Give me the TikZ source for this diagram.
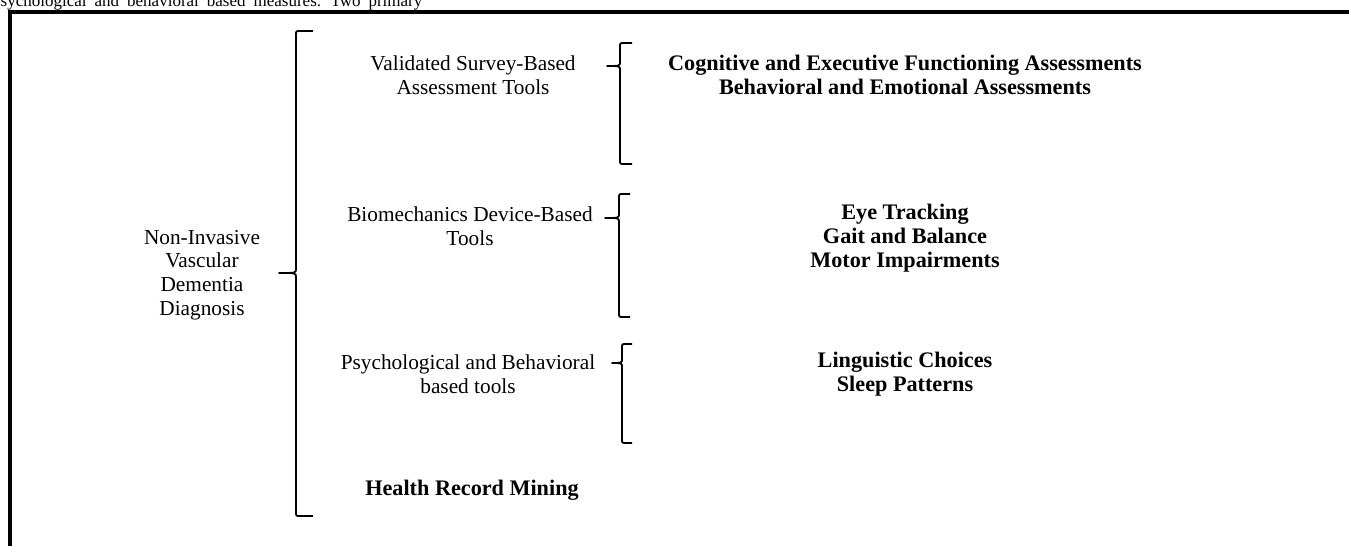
\documentclass[tikz,border=0pt]{standalone}
\usepackage{fontspec}
\setmainfont{Liberation Serif}
\begin{document}
\begin{tikzpicture}[x=1pt,y=-1pt,
  lbl/.style={inner sep=0pt,align=center,font=\fontsize{21.3}{23.6}\selectfont},
  blbl/.style={inner sep=0pt,align=center,font=\fontsize{22.2}{24}\selectfont\bfseries},
  bracestyle/.style={line width=1.8pt,line join=round},
  frame/.style={line width=3.2pt}]
\useasboundingbox (0,0) rectangle (1349,546);
\clip (0,0) rectangle (1349,546);
% partial line of running text above the frame
\node[anchor=base west,inner sep=0pt,font=\fontsize{17}{20}\selectfont] (runtext) at (-8,6)
  {\spaceskip=8pt\relax psychological and behavioral based measures. Two primary};
% frame
\coordinate (fA) at (10,560);
\coordinate (fB) at (10,12);
\coordinate (fC) at (1360,12);
\draw[frame] (fA) -- (fB) -- (fC);
% brace macro: x, top, notch, bottom, arm end, tip
\newcommand\mybrace[6]{%
  \draw[bracestyle] (#5,#2) -- ({#1+4},#2) .. controls (#1,#2) .. (#1,{#2+4})
    -- (#1,{#3-4}) .. controls (#1,#3) .. (#6,#3)
    .. controls (#1,#3) .. (#1,{#3+4})
    -- (#1,{#4-4}) .. controls (#1,#4) .. ({#1+4},#4) -- (#5,#4);}
% braces
\mybrace{296}{31}{273}{516}{313}{279}
\mybrace{620}{43}{66}{164}{632}{607}
\mybrace{619}{194}{218}{317}{630}{605}
\mybrace{622}{344}{363}{443}{632}{612}
% texts
\node[lbl] (root) at (202,275) {Non-Invasive\\Vascular\\Dementia\\Diagnosis};
\node[lbl] (survey) at (473,75) {Validated Survey-Based\\Assessment Tools};
\node[lbl] (biomech) at (470,226) {Biomechanics Device-Based\\Tools};
\node[lbl] (psych) at (468,374) {Psychological and Behavioral\\based tools};
\node[blbl] (health) at (472,490) {Health Record Mining};
\node[blbl] (cog) at (905,75) {Cognitive and Executive Functioning Assessments\\Behavioral and Emotional Assessments};
\node[blbl] (eye) at (905,238) {Eye Tracking\\Gait and Balance\\Motor Impairments};
\node[blbl] (ling) at (905,374) {Linguistic Choices\\Sleep Patterns};
\end{tikzpicture}
\end{document}
